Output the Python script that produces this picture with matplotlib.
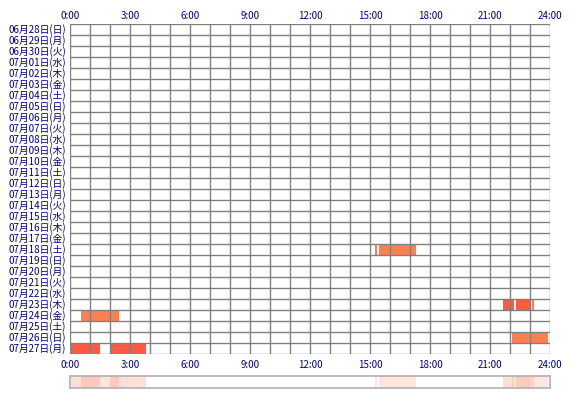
import matplotlib
matplotlib.use("Agg")
import matplotlib.pyplot as plt
from matplotlib.patches import Rectangle

plt.rcParams['font.family'] = ['Noto Sans CJK JP', 'DejaVu Sans']

days = ["06月28日(日)", "06月29日(月)", "06月30日(火)", "07月01日(水)", "07月02日(木)",
        "07月03日(金)", "07月04日(土)", "07月05日(日)", "07月06日(月)", "07月07日(火)",
        "07月08日(水)", "07月09日(木)", "07月10日(金)", "07月11日(土)", "07月12日(日)",
        "07月13日(月)", "07月14日(火)", "07月15日(水)", "07月16日(木)", "07月17日(金)",
        "07月18日(土)", "07月19日(日)", "07月20日(月)", "07月21日(火)", "07月22日(水)",
        "07月23日(木)", "07月24日(金)", "07月25日(土)", "07月26日(日)", "07月27日(月)"]

hour_ticks = [0, 3, 6, 9, 12, 15, 18, 21, 24]
hour_labels = ["0:00", "3:00", "6:00", "9:00", "12:00", "15:00", "18:00", "21:00", "24:00"]

# sessions: day label, start hour, end hour, colour
sess_day = ["07月18日(土)", "07月18日(土)",
            "07月23日(木)", "07月23日(木)", "07月23日(木)",
            "07月24日(金)",
            "07月26日(日)",
            "07月27日(月)", "07月27日(月)"]
sess_start = [15.25, 15.45, 21.63, 22.28, 23.08, 0.55, 22.10, 0.03, 1.98]
sess_end = [15.33, 17.28, 22.20, 23.03, 23.18, 2.45, 23.90, 1.50, 3.78]
sess_color = ["#FF7F50", "#FF7F50", "#FF5A40", "#FF5A40", "#FF7F50",
              "#FF7F50", "#FF7F50", "#FF5A45", "#FF5A45"]

W, H = 570, 400
fig = plt.figure(figsize=(W / 100, H / 100), dpi=100)
ax = fig.add_axes([70 / W, (H - 354) / H, 480 / W, 330 / H])
n = len(days)
ax.set_xlim(0, 24)
ax.set_ylim(n, 0)

for d, s, e, c in zip(sess_day, sess_start, sess_end, sess_color):
    i = days.index(d)
    ax.add_patch(Rectangle((s, i), e - s, 1, facecolor=c, edgecolor='none', zorder=1))

for h in range(25):
    ax.axvline(h, color='#808080', lw=1.0, zorder=2)
for r in range(n + 1):
    ax.axhline(r, color='#808080', lw=1.0, zorder=2)

for sp in ax.spines.values():
    sp.set_visible(False)
ax.set_xticks([])
ax.set_yticks([])

navy = '#000080'
for i, lab in enumerate(days):
    ax.text(-0.2, i + 0.5, lab, ha='right', va='center', fontsize=7, color=navy)
for t, lab in zip(hour_ticks, hour_labels):
    ax.text(t, -0.75, lab, ha='center', va='center', fontsize=7, color=navy, clip_on=False)
    ax.text(t, n + 1.0, lab, ha='center', va='center', fontsize=7, color=navy, clip_on=False)

# summary strip
ax2 = fig.add_axes([70 / W, (H - 388) / H, 480 / W, 12 / H])
ax2.set_xlim(0, 24)
ax2.set_ylim(0, 1)
for s, e, c in zip(sess_start, sess_end, sess_color):
    ax2.add_patch(Rectangle((s, 0), e - s, 1, facecolor=c, alpha=0.2, edgecolor='none'))
for sp in ax2.spines.values():
    sp.set_color('#b0b0b0')
    sp.set_linewidth(1.2)
ax2.set_xticks([])
ax2.set_yticks([])

fig.savefig("out.png", dpi=100)
